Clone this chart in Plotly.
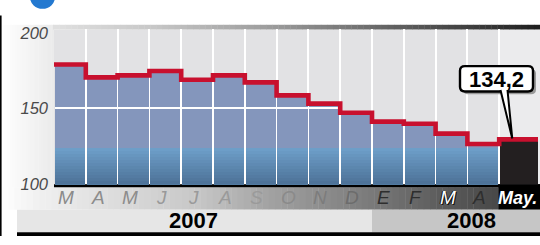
import plotly.graph_objects as go

# ---------------- data ----------------
months = ["M", "A", "M", "J", "J", "A", "S", "O", "N", "D", "E", "F", "M", "A", "May."]
values = [179.1, 170.6, 171.9, 174.8, 169.0, 171.9, 167.3, 158.7, 153.3, 147.3,
          141.4, 140.0, 133.5, 126.6, 129.7]
band_top = [123.5, 123.5, 123.5, 123.5, 123.5, 123.5, 123.5, 123.5, 123.5, 123.5,
            123.5, 123.5, 123.5, 123.5, None]
years = ["2007", "2008"]
y_ticks = [100, 150, 200]
y_tick_labels = ["100", "150", "200"]
callout_label = "134,2"

# ---------------- style / geometry ----------------
W, H = 540, 245
PL, PR, PT, PB = 54, 538, 25, 190
Y0, Y1 = 100, 202.2
COL_W, LAST_W = 1.0, 1.22
GAP = 0.045
GRID_Y = 150

BAR_BLUE = "#8496bc"
MAY_DARK = "#231f20"
RED = "#c8102e"
PLOT_BG = "#e2e2e4"
FONT = "Liberation Sans, Arial, sans-serif"
NARROW = "Liberation Sans Narrow, Arial Narrow, Liberation Sans, sans-serif"

month_colors = ["#8a8a8a", "#8c8c8c", "#8c8c8c", "#999999", "#9a9a9a", "#9a9a9a",
                "#9a9a9a", "#8a8a8a", "#7c7c7c", "#6c6c6c", "#2e2e2e", "#2e2e2e",
                "#ffffff", "#2e2e2e", "#ffffff"]

n = len(values)
widths = [COL_W] * (n - 1) + [LAST_W]
edges = [0.0]
for w in widths:
    edges.append(edges[-1] + w)
XR = edges[-1]

lefts, rights = [], []
for i in range(n):
    l = edges[i] + GAP / 2
    r = edges[i + 1] - (GAP / 2 if i < n - 1 else 0)
    lefts.append(l)
    rights.append(r)
centers = [(l + r) / 2 for l, r in zip(lefts, rights)]
bar_w = [r - l for l, r in zip(lefts, rights)]


def fx(px):
    return px / W


def fy(py):
    return 1 - py / H


def xpx(v):
    return PL + v * (PR - PL) / XR


def ypx(v):
    return PB - (v - Y0) * (PB - PT) / (Y1 - Y0)


def hx(c):
    c = c.lstrip("#")
    return [int(c[i:i + 2], 16) for i in (0, 2, 4)]


def lerp(c0, c1, t):
    a, b = hx(c0), hx(c1)
    return "rgb(%d,%d,%d)" % tuple(round(a[k] + (b[k] - a[k]) * t) for k in range(3))


def stop_color(stops, x):
    if x <= stops[0][0]:
        return lerp(stops[0][1], stops[0][1], 0)
    for (p0, c0), (p1, c1) in zip(stops[:-1], stops[1:]):
        if p0 <= x <= p1:
            return lerp(c0, c1, (x - p0) / (p1 - p0))
    return lerp(stops[-1][1], stops[-1][1], 0)


shapes = []


def rect(x0, y0, x1, y1, color, layer="below"):
    shapes.append(dict(type="rect", xref="paper", yref="paper",
                       x0=fx(x0), x1=fx(x1), y0=fy(y1), y1=fy(y0),
                       fillcolor=color, line=dict(width=0), layer=layer))


def hgrad(x0, x1, y0, y1, stops, steps=60, layer="below"):
    for i in range(steps):
        xa = x0 + (x1 - x0) * i / steps
        xb = x0 + (x1 - x0) * (i + 1) / steps
        col = stop_color(stops, (xa + xb) / 2)
        rect(xa, y0, min(xb + 0.4, x1), y1, col, layer)


def path(pts_cmds):
    out = []
    for cmd in pts_cmds:
        if isinstance(cmd, str):
            out.append(cmd)
        else:
            out.append("%.5f,%.5f" % (fx(cmd[0]), fy(cmd[1])))
    return " ".join(out)


def rrect_path(x0, y0, x1, y1, r):
    return path(["M", (x0 + r, y0), "L", (x1 - r, y0), "Q", (x1, y0), (x1, y0 + r),
                 "L", (x1, y1 - r), "Q", (x1, y1), (x1 - r, y1),
                 "L", (x0 + r, y1), "Q", (x0, y1), (x0, y1 - r),
                 "L", (x0, y0 + r), "Q", (x0, y0), (x0 + r, y0), "Z"])


# ---- decorations (background) ----
hgrad(2, PL, 20, 193, [(2, "#ffffff"), (30, "#f4f4f4"), (PL, "#ebebeb")], steps=20)
rect(PL, PT, PR, PB, PLOT_BG)
rect(xpx(edges[n - 1]), PT, W, PB, "#ebebed")
hgrad(PL - 1, W, 20, PT, [(54, "#e0e0e0"), (150, "#c8c8c8"), (270, "#9c9c9c"),
                          (400, "#5e5e5e"), (540, "#1e1e1e")], steps=80)
may_x0 = xpx(edges[n - 1]) - 1
hgrad(2, may_x0, 193, 217, [(0, "#ffffff"), (40, "#f0f0f0"), (100, "#e0e0e0"),
                            (200, "#c6c6c6"), (270, "#a2a2a2"), (380, "#767676"),
                            (440, "#5c5c5c"), (498, "#484848")], steps=80)
rect(may_x0, 190, W, 217, "#000000")
rect(17, 217, 372, 241, "#e6e6e6")
rect(372, 217, W, 241, "#c6c6c6")
rect(17, 241, W, 245, "#000000")
rect(PL, 190, W, 193, "#000000")
rect(0, 10, 1.6, 245, "#000000")
shapes.append(dict(type="circle", xref="paper", yref="paper",
                   x0=fx(30), x1=fx(55), y0=fy(3), y1=fy(-22),
                   fillcolor="#2479d0", line=dict(width=0), layer="above"))

# ---- callout ----
bx0, by0, bx1, by1 = 460, 64, 533, 91
shapes.append(dict(type="path", xref="paper", yref="paper",
                   path=rrect_path(bx0 + 3, by0 + 3, bx1 + 3, by1 + 3, 5),
                   fillcolor="#9a9a9a", line=dict(width=0), layer="above"))
shapes.append(dict(type="path", xref="paper", yref="paper",
                   path=rrect_path(bx0, by0, bx1, by1, 5),
                   fillcolor="#ffffff", line=dict(color="#000000", width=2.4), layer="above"))
tip_x = xpx(edges[n - 1] + 0.41)
tip_y = ypx(values[-1]) - 1
shapes.append(dict(type="path", xref="paper", yref="paper",
                   path=path(["M", (500.5, by1 - 1.5), "L", (tip_x, tip_y), "L", (507.5, by1 - 1.5)]),
                   fillcolor="#ffffff", line=dict(color="#000000", width=2), layer="above"))

# ---------------- traces ----------------
fig = go.Figure()

bar_colors = [BAR_BLUE] * (n - 1) + [MAY_DARK]
fig.add_trace(go.Bar(x=centers, y=values, width=bar_w,
                     marker=dict(color=bar_colors, line=dict(width=0)),
                     hoverinfo="skip"))

NSTEP = 12
for k in range(NSTEP):
    f = 1 - k / NSTEP
    ys = [None if b is None else Y0 + (b - Y0) * f for b in band_top]
    col = lerp("#6d9ec8", "#4e7399", k / (NSTEP - 1))
    fig.add_trace(go.Bar(x=centers, y=ys, width=bar_w,
                         marker=dict(color=col, line=dict(width=0)),
                         hoverinfo="skip"))

stripe_h = 0.95
stripe = [stripe_h if v > GRID_Y else None for v in values]
fig.add_trace(go.Bar(x=centers, y=stripe, base=GRID_Y - stripe_h / 2, width=bar_w,
                     marker=dict(color="#ffffff", line=dict(width=0)),
                     hoverinfo="skip"))

fig.add_trace(go.Scatter(x=edges, y=values + [values[-1]], mode="lines",
                         line=dict(color=RED, width=4.6, shape="hv"),
                         hoverinfo="skip"))

# ---------------- annotations ----------------
ann = []
label_y = fy(204.5)
for i, m in enumerate(months):
    is_last = i == n - 1
    font = dict(family=FONT if is_last else NARROW, size=18 if is_last else 19,
                color=month_colors[i], style="italic",
                weight="bold" if is_last else "normal")
    if m == "M" and month_colors[i] == "#ffffff":
        font["shadow"] = "1px 1px 0px #111, -1px 0px 0px #111"
    ann.append(dict(xref="x", yref="paper", x=centers[i], y=label_y,
                    text=m, showarrow=False, xanchor="center", yanchor="middle",
                    xshift=-1 if is_last else -4, font=font))

ann.append(dict(xref="paper", yref="paper", x=fx(193.5), y=fy(229), text=years[0],
                showarrow=False, xanchor="center", yanchor="middle",
                font=dict(family=FONT, size=22, color="#000000", weight="bold")))
ann.append(dict(xref="paper", yref="paper", x=fx(471.5), y=fy(229), text=years[1],
                showarrow=False, xanchor="center", yanchor="middle",
                font=dict(family=FONT, size=22, color="#000000", weight="bold")))
ann.append(dict(xref="paper", yref="paper", x=fx((bx0 + bx1) / 2), y=fy((by0 + by1) / 2 + 0.5),
                text=callout_label, showarrow=False, xanchor="center", yanchor="middle",
                font=dict(family=FONT, size=22, color="#000000", weight="bold")))

fig.update_layout(
    width=W, height=H, autosize=False,
    margin=dict(l=0, r=0, t=0, b=0, pad=0),
    paper_bgcolor="#ffffff", plot_bgcolor="rgba(0,0,0,0)",
    showlegend=False, barmode="overlay", bargap=0,
    shapes=shapes, annotations=ann,
    xaxis=dict(domain=[fx(PL), fx(PR)], range=[0, XR], tickvals=edges[1:-1],
               showgrid=True, gridcolor="#ffffff", gridwidth=1.5,
               showticklabels=False, ticks="", zeroline=False, showline=False,
               fixedrange=True),
    yaxis=dict(domain=[fy(PB), fy(PT)], range=[Y0, Y1], tickvals=y_ticks,
               ticktext=y_tick_labels, showgrid=False, zeroline=False, showline=False,
               ticks="", ticklabelstandoff=5,
               tickfont=dict(family=FONT, size=16.5, color="#4a4a4a", style="italic"),
               fixedrange=True),
)

fig.write_html("out.html", config={"displayModeBar": False},
               post_script="document.body.style.margin='0';document.body.style.padding='0';"
                           "document.body.style.overflow='hidden';")
